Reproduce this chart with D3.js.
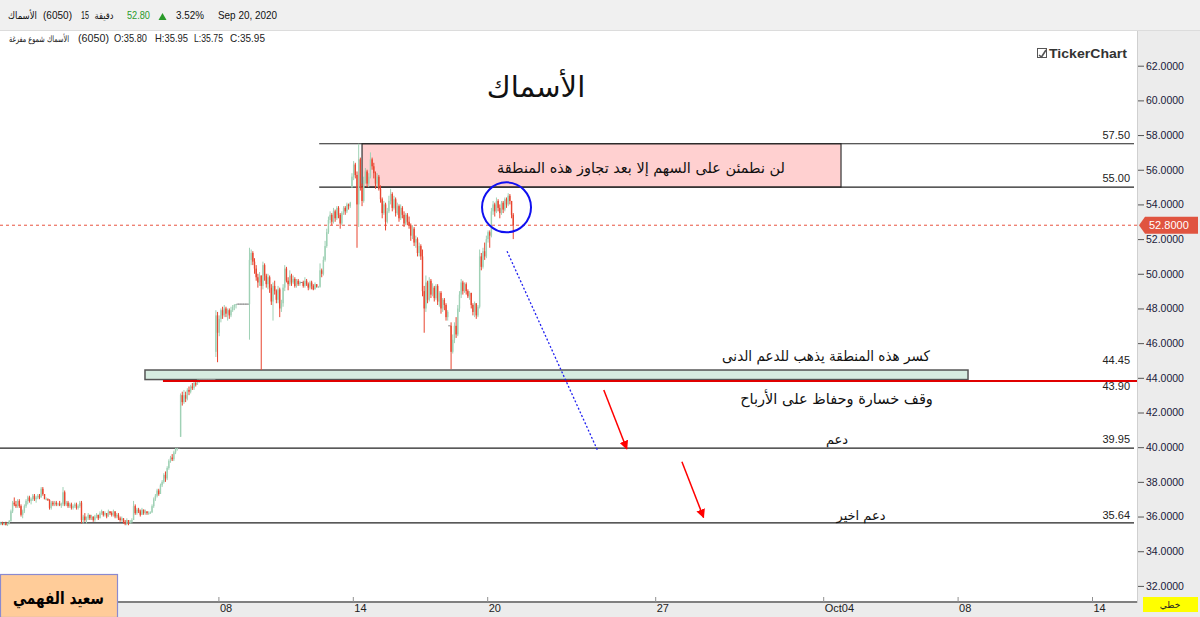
<!DOCTYPE html>
<html><head><meta charset="utf-8">
<script src="https://cdn.jsdelivr.net/npm/d3@7"></script>
<style>
body{margin:0;background:#fff;overflow:hidden;}
svg{display:block;font-family:"Liberation Sans",Arial,"DejaVu Sans",sans-serif;}
</style></head>
<body><svg id="c" width="1200" height="617"></svg>
<script>
// ---------------- DATA ----------------
// 15-minute bars, index 0 = first bar on screen (20 bars per trading day)
const closes=[35.6,35.55,35.6,35.5,35.6,35.75,36.3,36.8,36.7,36.6,
36.9,36.6,36.1,36.3,36.6,36.9,37.1,36.9,37.0,37.2,
37.0,37.1,37.2,37.1,37.6,37.3,37.0,37.0,36.95,36.5,
36.8,36.7,36.8,36.7,36.75,36.65,36.7,37.4,36.7,36.8,
36.6,36.7,36.5,36.6,36.7,36.5,36.6,36.8,35.8,36.0,
35.8,35.9,36.1,35.9,36.0,35.8,36.0,36.1,35.9,36.2,
36.3,36.1,36.2,36.0,36.3,36.2,36.1,36.3,36.0,36.1,
35.9,35.8,35.9,35.7,35.6,35.8,35.6,35.7,35.8,36.6,
36.2,36.4,36.3,36.1,36.4,36.2,36.3,36.2,36.2,36.25,
36.6,37.0,37.2,37.5,37.3,37.8,38.0,38.4,38.2,38.8,
39.2,39.4,39.3,39.7,39.9,39.95,39.95,43.0,42.6,43.0,
42.8,43.3,43.2,43.5,43.4,43.7,43.6,43.85,43.9,43.9,
43.9,43.9,43.9,43.9,43.9,43.9,43.9,43.9,47.6,46.6,
47.4,47.9,47.6,48.0,47.7,47.9,47.6,47.9,48.1,48.2,
48.25,48.25,48.25,48.25,48.25,48.25,48.25,48.25,50.8,51.2,
50.7,50.3,49.8,49.5,49.9,49.3,50.5,49.9,49.4,49.8,
49.2,48.4,49.3,49.0,48.5,49.1,48.0,48.3,49.2,50.3,
49.6,49.4,49.9,49.5,49.7,49.3,49.6,49.4,49.5,49.5,
49.3,49.6,49.4,49.2,49.5,49.3,49.1,49.4,49.25,49.25,
50.2,50.0,50.8,51.6,52.4,53.1,53.4,53.0,53.6,53.2,
53.8,53.4,52.9,53.5,53.8,53.6,54.0,53.9,54.1,55.6,
56.3,55.7,54.0,56.6,55.0,54.2,55.4,55.9,55.2,55.6,
56.6,56.2,55.8,55.2,55.6,54.9,54.3,53.5,54.0,53.0,
53.6,54.2,54.6,53.8,54.3,53.5,53.9,53.2,53.8,53.4,
52.9,53.4,53.0,52.8,52.2,52.6,51.8,52.0,51.2,51.6,
51.0,49.0,48.0,49.5,48.5,49.6,48.8,49.2,48.6,49.3,
48.4,48.9,48.0,48.5,48.2,47.5,47.8,47.0,45.5,46.2,
47.0,46.5,48.0,48.8,49.5,49.0,49.4,49.0,48.7,48.9,
48.2,47.8,48.3,47.6,48.1,51.0,50.4,51.3,51.0,52.0,
52.4,52.2,53.6,54.0,53.6,54.2,53.8,53.5,54.1,53.7,
54.3,54.0,54.5,54.2,53.4,52.8];
const highs=[35.7,35.7,35.65,35.7,35.65,35.8,36.4,36.9,37.1,36.9,
37.0,37.0,36.7,36.4,36.7,37.0,37.2,37.2,37.1,37.3,
37.3,37.2,37.3,37.3,37.7,37.7,37.3,37.1,37.05,37.0,
36.9,36.9,36.9,36.9,36.8,36.9,36.8,37.7,37.5,36.9,
36.9,36.8,36.8,36.7,36.8,36.8,36.7,36.9,36.9,36.1,
36.2,36.0,36.2,36.1,36.1,36.0,36.1,36.2,36.1,36.3,
36.4,36.3,36.3,36.2,36.4,36.3,36.3,36.4,36.3,36.2,
36.2,36.0,36.0,35.9,35.8,35.9,35.8,35.8,35.9,36.9,
36.7,36.5,36.5,36.4,36.5,36.4,36.4,36.3,36.3,36.3,
36.7,37.1,37.3,37.6,37.6,37.9,38.1,38.5,38.6,38.9,
39.3,39.5,39.6,39.8,39.95,39.95,39.95,43.1,43.2,43.3,
43.2,43.4,43.5,43.6,43.7,43.8,43.85,43.9,43.9,43.9,
43.9,43.9,43.9,43.9,43.9,43.9,43.9,43.9,47.9,47.8,
47.6,48.0,48.1,48.2,48.1,48.0,48.0,48.1,48.2,48.25,
48.25,48.25,48.25,48.25,48.25,48.25,48.25,48.25,51.5,51.4,
51.3,50.9,50.5,50.0,50.1,49.9,50.7,50.6,50.0,50.0,
49.9,49.4,49.5,49.6,49.1,49.3,49.2,48.5,49.4,50.5,
50.4,49.8,50.2,50.0,49.9,49.8,49.7,49.7,49.6,49.5,
49.6,49.8,49.7,49.5,49.6,49.6,49.4,49.5,49.4,49.3,
50.6,50.3,51.0,51.9,52.6,53.3,53.6,53.5,53.8,53.7,
53.9,53.9,53.5,53.6,53.9,53.9,54.1,54.05,54.15,55.8,
56.5,56.4,55.9,57.5,56.7,55.2,55.6,56.1,56.0,55.8,
57.0,56.7,56.4,55.9,55.8,55.7,55.1,54.4,54.2,54.1,
53.8,54.5,54.9,54.7,54.5,54.4,54.1,54.0,54.0,53.9,
53.6,53.5,53.5,53.3,52.9,52.8,52.7,52.2,52.1,51.8,
51.7,51.4,49.3,49.9,49.6,49.8,49.7,49.45,49.3,49.4,
49.4,49.0,49.0,48.6,48.6,48.3,47.9,47.0,47.2,46.5,
47.2,47.5,48.2,49.0,49.7,49.6,49.5,49.5,49.1,49.0,
48.9,48.3,48.4,48.3,48.2,51.4,51.2,51.5,51.8,52.2,
52.5,52.5,53.8,54.2,54.1,54.4,54.3,54.0,54.2,54.2,
54.4,54.4,54.65,54.6,54.2,53.5];
const lows=[35.5,35.5,35.5,35.5,35.45,35.55,35.7,36.2,36.6,36.5,
36.5,36.5,36.0,35.9,36.2,36.5,36.7,36.8,36.7,36.9,
36.9,36.8,37.0,37.0,37.1,37.2,37.0,36.95,36.9,36.4,
36.4,36.6,36.6,36.6,36.6,36.6,36.5,36.6,36.6,36.6,
36.5,36.5,36.4,36.4,36.5,36.4,36.4,36.5,35.6,35.6,
35.7,35.6,35.8,35.8,35.8,35.7,35.7,35.9,35.8,35.9,
36.1,36.0,36.0,35.9,36.0,36.1,36.0,36.0,35.9,35.9,
35.8,35.7,35.7,35.6,35.5,35.5,35.5,35.6,35.6,35.8,
36.1,36.1,36.2,36.0,36.1,36.1,36.1,36.1,36.1,36.15,
36.2,36.5,36.9,37.1,37.2,37.3,37.7,37.9,38.0,38.1,
38.7,39.1,39.2,39.2,39.6,39.8,39.95,40.6,42.4,42.5,
42.6,42.7,43.0,43.1,43.3,43.3,43.5,43.6,43.7,43.9,
43.9,43.9,43.9,43.9,43.9,43.9,43.9,43.9,45.2,44.9,
46.4,47.2,47.4,47.5,47.5,47.3,47.4,47.5,47.8,47.9,
48.0,48.25,48.25,48.25,48.25,48.25,48.25,48.25,46.2,50.5,
50.5,50.0,49.6,49.2,49.3,44.45,49.1,49.6,49.2,49.1,
48.9,48.2,47.3,48.8,48.3,48.3,47.5,47.8,48.1,49.0,
49.5,49.05,49.3,49.3,49.4,49.2,49.2,49.3,49.3,49.5,
49.2,49.2,49.3,49.05,49.1,49.1,49.05,49.1,49.2,49.2,
49.2,49.8,49.9,50.7,51.5,52.3,52.9,52.8,52.9,53.0,
53.1,53.2,52.6,52.8,53.4,53.4,53.5,53.7,53.8,54.95,
55.4,55.5,51.5,52.7,54.8,53.9,54.1,55.2,55.0,55.0,
55.5,56.0,55.5,54.9,55.0,54.8,54.1,53.2,53.4,52.5,
52.9,53.5,54.0,53.6,53.7,53.3,53.4,53.0,53.1,53.2,
52.7,52.8,52.8,52.6,51.9,52.0,51.6,51.5,51.0,51.0,
50.8,48.7,46.6,47.8,48.3,48.4,48.6,48.7,48.4,48.5,
48.2,48.1,47.7,47.8,47.9,47.3,47.3,47.0,44.5,45.4,
46.0,46.3,46.4,47.8,48.6,48.8,48.9,48.8,48.6,48.5,
48.0,47.6,47.5,47.4,47.5,48.0,50.2,50.3,50.8,50.9,
51.8,51.5,52.1,53.4,53.3,53.5,53.6,53.2,53.4,53.5,
53.6,53.8,53.9,54.0,53.2,52.0];
// opens equal the previous close except at these opening gaps
const gapOpens={0:35.6,107:40.6,128:45.5,209:55.0,267:47.0};

const dayTickIdx=[130,210,290,390,490,570,650];
const dayTickLabels=["08","14","20","27","Oct04","08","14"];
const priceTicks=[32,34,36,38,40,42,44,46,48,50,52,54,56,58,60,62];
const lastPrice=52.8;

// drawn horizontal levels
const levelValues=[57.5,55.0,44.45,43.9,39.95,35.64];
const levelLabels=["57.50","55.00","44.45","43.90","39.95","35.64"];

// ---------------- CHART ----------------
const svg=d3.select("#c");
const PR=1137; // plot right edge
const x=d3.scaleLinear().domain([0,675]).range([0,1134]);
const y=d3.scaleLinear().domain([32,62]).range([585.9,65.7]);
const xc=i=>x(i+0.5);
const LAT="Arial,'Liberation Sans',sans-serif";
const AR="'DejaVu Sans',sans-serif";

svg.append("rect").attr("width",1200).attr("height",617).attr("fill","#fff");

// annotation boxes (behind candles)
svg.append("rect").attr("x",x(215.5)).attr("y",y(57.5)).attr("width",x(500.6)-x(215.5))
  .attr("height",y(55)-y(57.5)).attr("fill","#ffd0d0").attr("stroke","#333").attr("stroke-width",1.2);
svg.append("rect").attr("x",x(86.3)).attr("y",y(44.45)).attr("width",x(576.2)-x(86.3))
  .attr("height",y(43.9)-y(44.45)).attr("fill","#d6ece0").attr("stroke","#555").attr("stroke-width",1.5);

// support lines
[[57.5,190,675],[55.0,190,675],[39.95,0,675],[35.64,0,675]].forEach(([v,a,b])=>{
  svg.append("line").attr("x1",x(a)).attr("x2",Math.min(x(b),PR)).attr("y1",y(v)).attr("y2",y(v))
   .attr("stroke","#222").attr("stroke-width",1.2);
});
// last price dashed line
svg.append("line").attr("x1",0).attr("x2",PR).attr("y1",y(lastPrice)).attr("y2",y(lastPrice))
  .attr("stroke","#e8533f").attr("stroke-width",1).attr("stroke-dasharray","3,3");

// candles
const bars=closes.map((c,i)=>{
  const o=(gapOpens[i]!==undefined)?gapOpens[i]:closes[i-1];
  return {i,o,c,h:Math.max(highs[i],o,c),l:Math.min(lows[i],o,c),pc:i?closes[i-1]:c};
});
const cg=svg.append("g");
bars.forEach(b=>{
  const cx=xc(b.i);
  if(b.h===b.l){
    cg.append("rect").attr("x",cx-1.2).attr("y",y(b.c)-0.5).attr("width",2.4).attr("height",1).attr("fill","#888");
    return;
  }
  const up=b.c>=b.pc;
  const hollow=b.c>=b.o;
  const dark=up?"#4f9d70":"#e8452f";
  const light=up?"#9fd1b5":"#f4a197";
  cg.append("line").attr("x1",cx).attr("x2",cx).attr("y1",y(b.h)).attr("y2",y(b.l))
    .attr("stroke",hollow?light:dark).attr("stroke-width",1);
  const top=y(Math.max(b.o,b.c)), bot=y(Math.min(b.o,b.c));
  cg.append("rect").attr("x",cx-0.7).attr("y",top).attr("width",1.4).attr("height",Math.max(1,bot-top))
    .attr("fill",hollow?light:dark);
});

// red stop line at 43.90
svg.append("line").attr("x1",x(97)).attr("x2",PR).attr("y1",y(43.9)+1.5).attr("y2",y(43.9)+1.5)
  .attr("stroke","#e00000").attr("stroke-width",2);

// level labels
const labOff=[-5,-5,-6,10,-5,-4];
levelValues.forEach((v,k)=>{
  svg.append("text").attr("x",1130).attr("y",y(v)+labOff[k]).attr("text-anchor","end")
   .attr("font-size",11).attr("fill","#222").attr("font-family",LAT).text(levelLabels[k]);
});

// blue circle
svg.append("ellipse").attr("cx",xc(301)).attr("cy",y(53.83)).attr("rx",24.5).attr("ry",25)
  .attr("fill","none").attr("stroke","#1010f0").attr("stroke-width",2);
// blue dotted trend
svg.append("line").attr("x1",xc(301.3)).attr("y1",y(51.3)).attr("x2",xc(355.5)).attr("y2",y(39.75))
  .attr("stroke","#2020f0").attr("stroke-width",1.3).attr("stroke-dasharray","2,2");

// red arrows
const defs=svg.append("defs");
defs.append("marker").attr("id","ah").attr("viewBox","0 0 10 10").attr("refX",9).attr("refY",5)
  .attr("markerWidth",9).attr("markerHeight",9).attr("orient","auto").attr("markerUnits","userSpaceOnUse")
  .append("path").attr("d","M0,0 L10,5 L0,10 z").attr("fill","#f00");
[[358.9,43.3,372.6,39.9],[405.4,39.16,418.3,35.95]].forEach(([a,p,b,q])=>{
  svg.append("line").attr("x1",xc(a)).attr("y1",y(p)).attr("x2",xc(b)).attr("y2",y(q))
   .attr("stroke","#f00").attr("stroke-width",1.5).attr("marker-end","url(#ah)");
});

// texts: when a target width is given, the text is scaled horizontally to fit it
function T(s,xx,yy,size,opt={}){
  const g=svg.append("g").attr("transform",`translate(${xx},${yy})`);
  const t=g.append("text").attr("x",0).attr("y",0).attr("font-size",size)
   .attr("font-family",opt.ff||AR).attr("text-anchor",opt.anchor||"middle").attr("direction","ltr")
   .attr("font-weight",opt.fw||"normal").attr("fill",opt.fill||"#111").text(s);
  if(opt.len){
    const w=t.node().getComputedTextLength();
    if(w>0) g.attr("transform",`translate(${xx},${yy}) scale(${opt.len/w},1)`);
  }
  return t;
}
T("الأسماك",536,97,29);
T("لن نطمئن على السهم إلا بعد تجاوز هذه المنطقة",641,173,15,{len:288});
T("كسر هذه المنطقة يذهب للدعم الدنى",826,361,14.5,{len:208});
T("وقف خسارة وحفاظ على الأرباح",836.5,404,15,{len:193});
T("دعم",837,444,13);
T("دعم اخير",861,520,13);

// TickerChart logo
const lg=svg.append("g");
lg.append("rect").attr("x",1037.5).attr("y",48.5).attr("width",9).attr("height",9).attr("fill","#fff").attr("stroke","#555");
lg.append("path").attr("d","M1039,55 L1041.5,57 L1046,50").attr("fill","none").attr("stroke","#555").attr("stroke-width",1.6);
T("TickerChart",1049,58,13,{anchor:"start",fw:"bold",fill:"#333",ff:LAT,len:78});

// header
svg.append("rect").attr("x",0).attr("y",0).attr("width",1200).attr("height",30).attr("fill","#f0f0f0");
svg.append("line").attr("x1",0).attr("x2",1200).attr("y1",30.5).attr("y2",30.5).attr("stroke","#dcdcdc");
T("الأسماك",22.5,19,10,{len:29});
T("(6050)",43,19,11,{anchor:"start",ff:LAT,len:29});
T("15",81,19,11,{anchor:"start",ff:LAT,len:8});
T("دقيقة",104,19,10,{len:19});
T("52.80",127,19,11,{anchor:"start",fill:"#2a9a2a",ff:LAT,len:23});
svg.append("path").attr("d","M158.5,20 L166.5,20 L162.5,13 z").attr("fill","#2a9a2a");
T("3.52%",176,19,11,{anchor:"start",ff:LAT,len:28});
T("Sep 20, 2020",218,19,11,{anchor:"start",ff:LAT,len:59});
T("الأسماك شموع مفرغة",39,42,9,{len:60});
T("(6050)",78,42,10,{anchor:"start",ff:LAT,len:31,fill:"#222"});
T("O:35.80",114,42,10,{anchor:"start",ff:LAT,len:33,fill:"#222"});
T("H:35.95",155,42,10,{anchor:"start",ff:LAT,len:33,fill:"#222"});
T("L:35.75",194,42,10,{anchor:"start",ff:LAT,len:29,fill:"#222"});
T("C:35.95",230,42,10,{anchor:"start",ff:LAT,len:35,fill:"#222"});

// right axis panel
svg.append("rect").attr("x",PR+1).attr("y",31).attr("width",1200-PR-1).attr("height",586).attr("fill","#ececec");
svg.append("line").attr("x1",PR+0.5).attr("x2",PR+0.5).attr("y1",31).attr("y2",603).attr("stroke","#d0d0d0");
const ya=svg.append("g").attr("transform",`translate(${PR+1},0)`)
  .call(d3.axisRight(y).tickValues(priceTicks).tickFormat(d=>d.toFixed(4)).tickSize(6).tickPadding(2));
ya.select(".domain").remove();
ya.selectAll("line").attr("stroke","#555");
ya.selectAll("text").attr("font-size",10.5).attr("fill","#1a1a3a").attr("font-family",LAT);

// last price tag
const ly=y(lastPrice);
svg.append("path").attr("d",`M${PR+2},${ly} L${PR+8},${ly-8.5} L1198,${ly-8.5} L1198,${ly+8.5} L${PR+8},${ly+8.5} z`).attr("fill","#e05440");
T("52.8000",1149,ly+4,11,{anchor:"start",fill:"#fff",ff:LAT});

// bottom axis
svg.append("rect").attr("x",0).attr("y",603).attr("width",PR+1).attr("height",14).attr("fill","#ececec");
const xa=svg.append("g").attr("transform","translate(0,602)")
  .call(d3.axisBottom(x).tickValues(dayTickIdx).tickFormat((d,k)=>dayTickLabels[k]).tickSizeInner(-5).tickSizeOuter(0).tickPadding(0));
xa.select(".domain").attr("stroke","#808080").attr("stroke-width",2).attr("d",`M0,0H${PR}`);
xa.selectAll(".tick line").attr("stroke","#909090");
xa.selectAll(".tick text").attr("text-anchor","start").attr("dx",1).attr("y",10).attr("dy",0)
  .attr("font-size",11).attr("fill","#222").attr("font-family","'Liberation Sans Narrow','Arial Narrow',sans-serif");

// line-type tag
svg.append("rect").attr("x",1143).attr("y",597).attr("width",55).attr("height",15).attr("fill","#ffff00");
T("خطي",1170,608,9,{fill:"#222"});

// author box
svg.append("rect").attr("x",0.5).attr("y",574.5).attr("width",117).attr("height",43).attr("fill","#ffcc99").attr("stroke","#8a8ad0").attr("stroke-width",1.2);
T("سعيد الفهمي",58.5,604,17,{fw:"bold",fill:"#000",len:91});
</script></body></html>
